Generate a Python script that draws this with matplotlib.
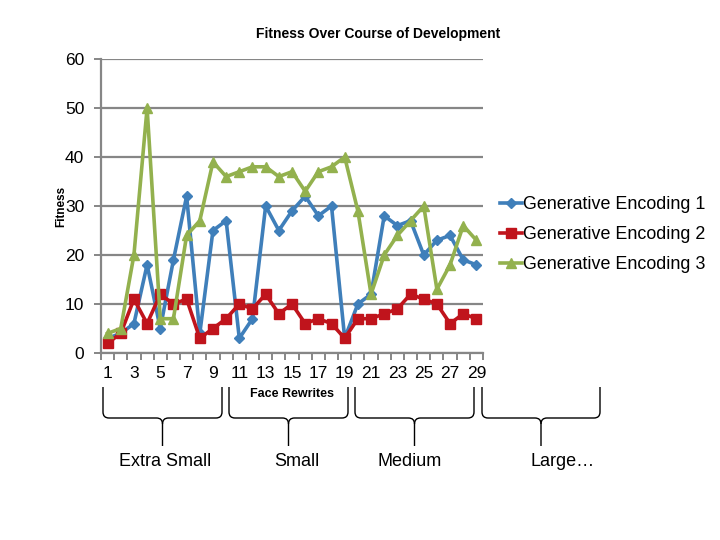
import matplotlib
matplotlib.use("Agg")
import matplotlib.pyplot as plt
from matplotlib.path import Path
from matplotlib.patches import PathPatch
import numpy as np

plt.rcParams['font.family'] = ['Liberation Sans', 'DejaVu Sans']

rewrites = list(range(1, 30))
enc1 = [3, 4, 6, 18, 5, 19, 32, 4, 25, 27, 3, 7, 30, 25, 29, 32, 28, 30, 3, 10, 12, 28, 26, 27, 20, 23, 24, 19, 18]
enc2 = [2, 4, 11, 6, 12, 10, 11, 3, 5, 7, 10, 9, 12, 8, 10, 6, 7, 6, 3, 7, 7, 8, 9, 12, 11, 10, 6, 8, 7]
enc3 = [4, 5, 20, 50, 7, 7, 24, 27, 39, 36, 37, 38, 38, 36, 37, 33, 37, 38, 40, 29, 12, 20, 24, 27, 30, 13, 18, 26, 23]
series_names = ['Generative Encoding 1', 'Generative Encoding 2', 'Generative Encoding 3']
group_labels = ['Extra Small', 'Small', 'Medium', 'Large…']

W, H = 720, 540
fig = plt.figure(figsize=(7.2, 5.4), dpi=100)
ax = fig.add_axes([101 / W, 1 - 353 / H, (483 - 101) / W, (353 - 59) / H])

colors = ['#3F7FBA', '#C0141C', '#93B14E']
markers = ['D', 's', '^']
msizes = [5, 6.5, 7]
for vals, c, m, ms, name in zip([enc1, enc2, enc3], colors, markers, msizes, series_names):
    ax.plot(rewrites, vals, color=c, lw=2.6, marker=m, ms=ms, mfc=c, mec=c, label=name)

ax.set_xlim(0.5, 29.5)
ax.set_ylim(0, 60)
ax.set_yticks(range(0, 61, 10))
ax.yaxis.grid(True, color='#868686', lw=1.6)
ax.set_axisbelow(True)
for s in ['top', 'right']:
    ax.spines[s].set_visible(False)
for s in ['left', 'bottom']:
    ax.spines[s].set_color('#868686')
    ax.spines[s].set_linewidth(1.6)
ax.tick_params(axis='y', direction='out', length=5, width=1.4, color='#868686', labelsize=12.5, pad=7)

ax.set_xticks(rewrites[::2])
ax.set_xticklabels([str(r) for r in rewrites[::2]])
ax.set_xticks(np.arange(0.5, 30, 1), minor=True)
ax.tick_params(axis='x', which='major', length=0, labelsize=12.5, pad=9)
ax.tick_params(axis='x', which='minor', direction='out', length=5, width=1.4, color='#868686')

ax.set_ylabel('Fitness', fontsize=8.5, fontweight='bold')
ax.yaxis.set_label_coords(-34 / (483 - 101), 0.5)

fig.text(378 / W, 1 - 34 / H, 'Fitness Over Course of Development', ha='center', va='center',
         fontsize=10, fontweight='bold')
fig.text(292 / W, 1 - 394 / H, 'Face Rewrites', ha='center', va='center', fontsize=9, fontweight='bold')

leg = fig.legend(loc='upper left', bbox_to_anchor=(500 / W, 1 - 196 / H), frameon=False,
                 fontsize=12.9, handlelength=1.2, handletextpad=0.08, labelspacing=0.72,
                 borderaxespad=0, borderpad=0)

# braces
def brace(x0, x1, ytop=387, ybar=418, ytip=446):
    xm = (x0 + x1) / 2
    r = 6
    verts = [(x0, ytop), (x0, ybar - r), (x0, ybar), (x0 + r, ybar),
             (xm - r, ybar), (xm, ybar), (xm, ybar + r),
             (xm, ytip)]
    codes = [Path.MOVETO, Path.LINETO, Path.CURVE3, Path.CURVE3,
             Path.LINETO, Path.CURVE3, Path.CURVE3, Path.LINETO]
    verts2 = [(x1, ytop), (x1, ybar - r), (x1, ybar), (x1 - r, ybar),
              (xm + r, ybar), (xm, ybar), (xm, ybar + r)]
    codes2 = [Path.MOVETO, Path.LINETO, Path.CURVE3, Path.CURVE3,
              Path.LINETO, Path.CURVE3, Path.CURVE3]
    for v, cds in [(verts, codes), (verts2, codes2)]:
        v = [(x / W, 1 - y / H) for x, y in v]
        p = PathPatch(Path(v, cds), transform=fig.transFigure, fill=False, lw=1.0, color='black')
        fig.add_artist(p)

spans = [(103, 222), (229, 348), (355, 474), (482, 600)]
label_x = [165, 297, 410, 563]
for (a, b), lab, lx in zip(spans, group_labels, label_x):
    brace(a, b)
    fig.text(lx / W, 1 - 461 / H, lab, ha='center', va='center', fontsize=13)

fig.savefig('out.png', dpi=100)
